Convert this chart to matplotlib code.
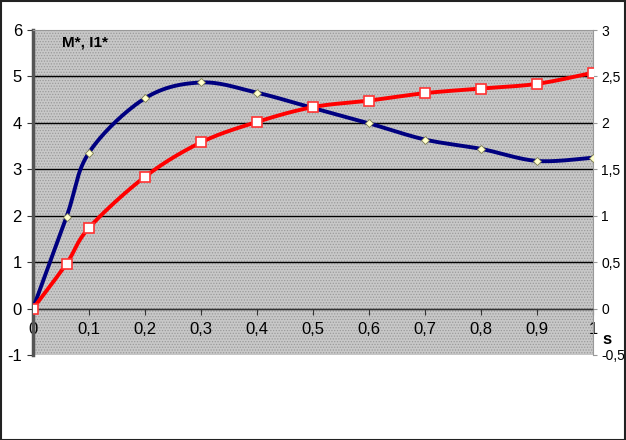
import numpy as np
import matplotlib
matplotlib.use("Agg")
import matplotlib.pyplot as plt
from matplotlib.patches import Rectangle

plt.rcParams['font.family'] = ['Liberation Sans', 'DejaVu Sans']
plt.rcParams['hatch.linewidth'] = 0.6

s = [0, 0.06, 0.1, 0.2, 0.3, 0.4, 0.5, 0.6, 0.7, 0.8, 0.9, 1.0]
m_star = [0, 1.98, 3.36, 4.53, 4.87, 4.65, 4.32, 3.99, 3.64, 3.44, 3.18, 3.25]
i1_star = [0, 0.485, 0.87, 1.42, 1.79, 2.01, 2.17, 2.24, 2.32, 2.37, 2.42, 2.54]

x_ticks = [0, 0.1, 0.2, 0.3, 0.4, 0.5, 0.6, 0.7, 0.8, 0.9, 1.0]
left_ticks = [-1, 0, 1, 2, 3, 4, 5, 6]
right_ticks = [-0.5, 0, 0.5, 1, 1.5, 2, 2.5, 3]


def comma(v):
    return ('%g' % v).replace('.', ',')


def smooth(x, y, sx, sy, n=30):
    # excel style bezier through the points, worked out in pixel units
    p = np.column_stack([np.asarray(x, float) * sx, np.asarray(y, float) * sy])
    p = np.vstack([p[:1], p, p[-1:]])
    t = np.linspace(0, 1, n)[:, None]
    out = []
    for i in range(1, len(p) - 2):
        c1 = p[i] + (p[i + 1] - p[i - 1]) / 6
        c2 = p[i + 1] - (p[i + 2] - p[i]) / 6
        b = (1 - t) ** 3 * p[i] + 3 * (1 - t) ** 2 * t * c1 \
            + 3 * (1 - t) * t ** 2 * c2 + t ** 3 * p[i + 1]
        out.append(b)
    out = np.vstack(out)
    return out[:, 0] / sx, out[:, 1] / sy


fig = plt.figure(figsize=(6.26, 4.4), dpi=100)
ax = fig.add_axes([33 / 626, 1 - 355 / 440, 560 / 626, 325 / 440])
ax.set_xlim(0, 1)
ax.set_ylim(-1, 6)
ax.set_facecolor('#c8c8c8')
ax.add_patch(Rectangle((0, 0), 1, 1, transform=ax.transAxes, facecolor='none',
                       edgecolor='#9a9a9a', hatch='......', linewidth=0, zorder=0))

for v in left_ticks[1:-1]:
    ax.axhline(v, color='black', lw=1, zorder=1)

ax.spines['bottom'].set_position(('data', 0))
ax.spines['bottom'].set_color('#333333')
ax.spines['left'].set_color('#555555')
ax.spines['left'].set_linewidth(2.5)
ax.spines['top'].set_color('#999999')
ax.spines['right'].set_color('#999999')
ax.set_xticks(x_ticks)
ax.set_xticklabels([comma(v) for v in x_ticks], fontsize=12)
ax.set_yticks(left_ticks)
ax.set_yticklabels([comma(v) for v in left_ticks], fontsize=12)
ax.tick_params(axis='x', length=4, pad=6, color='#333333')
ax.tick_params(axis='y', length=4, pad=4, color='#333333')

ax2 = ax.twinx()
ax2.set_ylim(-0.5, 3)
ax2.set_yticks(right_ticks)
ax2.set_yticklabels([comma(v) for v in right_ticks], fontsize=10)
ax2.tick_params(axis='y', length=3, pad=3, color='#999999')
for sp in ax2.spines.values():
    sp.set_visible(False)

bx, by = smooth(s, m_star, 560, 325 / 7)
ax.plot(bx, by, color='#000080', lw=2.8, zorder=3, solid_capstyle='round')
ax.plot(s, m_star, ls='none', marker='D', ms=4.5, mfc='#ffffcc', mec='#7a7a50',
        mew=0.6, zorder=4)

rx, ry = smooth(s, i1_star, 560, 325 / 3.5)
ax2.plot(rx, ry, color='#ff0000', lw=2.8, zorder=3, solid_capstyle='round')
ax2.plot(s, i1_star, ls='none', marker='s', ms=7, mfc='white', mec='#ff3333',
         mew=1.2, zorder=4)

ax.text(0.052, 0.963, 'M*, I1*', transform=ax.transAxes, fontsize=11,
        fontweight='bold', va='center', ha='left')
fig.text(602 / 626, 1 - 340 / 440, 's', fontsize=12, fontweight='bold',
         va='center', ha='left')

fig.add_artist(Rectangle((0.5 / 626, 0.5 / 440), 1 - 1.5 / 626, 1 - 1.5 / 440,
                         transform=fig.transFigure, facecolor='none',
                         edgecolor='#222222', lw=1.5))

fig.savefig('out.png', dpi=100)
